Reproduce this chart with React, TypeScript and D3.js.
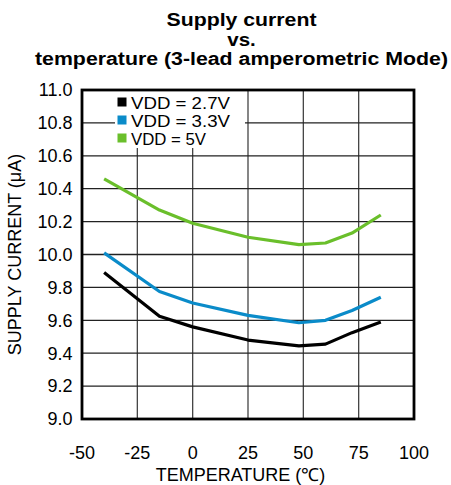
import React from "react";
import * as d3 from "d3";

const temps = [-40, -15, 0, 25, 48, 60, 72, 85];
const vdd27 = [9.89, 9.625, 9.56, 9.48, 9.445, 9.455, 9.525, 9.59];
const vdd33 = [10.01, 9.775, 9.705, 9.63, 9.585, 9.6, 9.66, 9.74];
const vdd5 = [10.46, 10.27, 10.19, 10.105, 10.06, 10.07, 10.13, 10.24];
const seriesNames = ["VDD = 2.7V", "VDD = 3.3V", "VDD = 5V"];
const seriesColors = ["#000000", "#0a8bc9", "#6abf2b"];
const xTicks = [-50, -25, 0, 25, 50, 75, 100];
const yTicks = [9.0, 9.2, 9.4, 9.6, 9.8, 10.0, 10.2, 10.4, 10.6, 10.8, 11.0];
const titleLines = ["Supply current", "vs.", "temperature (3-lead amperometric Mode)"];
const titleWidths = [150, 28.5, 413];
const legendWidths = [99, 99, 75];

export default function App() {
  const W = 451, H = 485;
  const L = 82, R = 414, T = 90, B = 419;
  const x = d3.scaleLinear().domain([-50, 100]).range([L, R]);
  const y = d3.scaleLinear().domain([9, 11]).range([B, T]);
  const series = [vdd27, vdd33, vdd5];
  const line = d3.line<[number, number]>().x(d => x(d[0])).y(d => y(d[1]));
  const font = "'Liberation Sans', Arial, sans-serif";
  return (
    <svg width={W} height={H} style={{ position: "absolute", left: 0, top: 0, background: "#fff" }} fontFamily={font}>
      {titleLines.map((t, i) => (
        <text key={i} x={241.5} y={26 + i * 19.5} textAnchor="middle" fontWeight="bold" fontSize={17.5}
          textLength={titleWidths[i]} lengthAdjust="spacingAndGlyphs" fill="#000">{t}</text>
      ))}
      {xTicks.slice(1, -1).map(t => (
        <line key={"gx" + t} x1={x(t)} x2={x(t)} y1={T} y2={B} stroke="#444" strokeWidth={1.3} />
      ))}
      {yTicks.slice(1, -1).map(t => (
        <line key={"gy" + t} x1={L} x2={R} y1={y(t)} y2={y(t)} stroke="#222" strokeWidth={1.3} />
      ))}
      <rect x={115} y={T + 1} width={130} height={57} fill="#fff" />
      {series.map((s, i) => (
        <path key={"s" + i} d={line(temps.map((t, j) => [t, s[j]] as [number, number])) || ""} fill="none" stroke={seriesColors[i]} strokeWidth={3.2} strokeLinejoin="round" />
      ))}
      <rect x={L} y={T} width={R - L} height={B - T} fill="none" stroke="#000" strokeWidth={2.8} />
      {seriesNames.map((n, i) => (
        <g key={"l" + i}>
          <rect x={117.5} y={97.5 + i * 18} width={9} height={9} fill={seriesColors[i]} />
          <text x={131} y={108.5 + i * 18} fontSize={17} textLength={legendWidths[i]} lengthAdjust="spacingAndGlyphs" fill="#000">{n}</text>
        </g>
      ))}
      {yTicks.map(t => (
        <text key={"yt" + t} x={72.5} y={y(t) + 6.3} textAnchor="end" fontSize={18} fill="#000">{t.toFixed(1)}</text>
      ))}
      {xTicks.map(t => (
        <text key={"xt" + t} x={x(t)} y={459} textAnchor="middle" fontSize={18} fill="#000">{t}</text>
      ))}
      <text x={240.5} y={481} textAnchor="middle" fontSize={18} fill="#000">TEMPERATURE (℃)</text>
      <text transform={`translate(21,${(T + B) / 2}) rotate(-90)`} textAnchor="middle" fontSize={18} fill="#000">SUPPLY CURRENT (μA)</text>
    </svg>
  );
}
